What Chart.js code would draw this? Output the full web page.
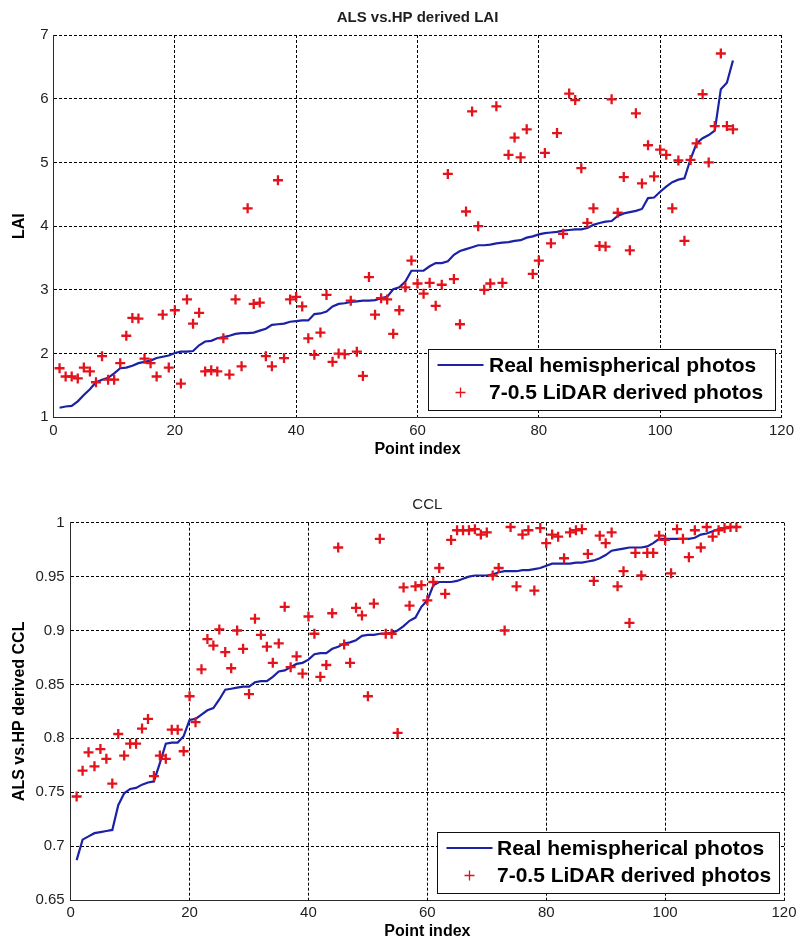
<!DOCTYPE html>
<html>
<head>
<meta charset="utf-8">
<title>ALS vs. HP derived LAI and CCL</title>
<script src="https://cdn.jsdelivr.net/npm/chart.js@4/dist/chart.umd.min.js"></script>
<style>
  html, body { margin: 0; padding: 0; background: #fff; }
  #wrap { position: relative; width: 801px; height: 941px; overflow: hidden; background: #fff; }
  #wrap canvas { position: absolute; left: 0; }
  #laiCanvas { top: 0; }
  #cclCanvas { top: 470px; }
</style>
</head>
<body>
<div id="wrap">
  <canvas id="laiCanvas" width="801" height="470"></canvas>
  <canvas id="cclCanvas" width="801" height="471"></canvas>
</div>
<script>
// ---- axis ticks ----
const indexTicks = [0, 20, 40, 60, 80, 100, 120];
const laiTicks = [1, 2, 3, 4, 5, 6, 7];
const cclTicks = [0.65, 0.7, 0.75, 0.8, 0.85, 0.9, 0.95, 1];
const cclTickLabels = ['0.65', '0.7', '0.75', '0.8', '0.85', '0.9', '0.95', '1'];

// ---- series names ----
const seriesNames = ['Real hemispherical photos', '7-0.5 LiDAR derived photos'];

// ---- LAI: sorted hemispherical-photo values (point index 1..112) ----
const laiHP = [
  1.15, 1.17, 1.18, 1.25, 1.35, 1.44, 1.55, 1.59, 1.62, 1.69,
  1.77, 1.78, 1.81, 1.85, 1.87, 1.89, 1.93, 1.95, 1.97, 2.01,
  2.03, 2.03, 2.04, 2.13, 2.19, 2.20, 2.24, 2.26, 2.28, 2.31,
  2.32, 2.32, 2.33, 2.36, 2.39, 2.45, 2.46, 2.47, 2.50, 2.51,
  2.52, 2.52, 2.62, 2.63, 2.66, 2.74, 2.78, 2.79, 2.81, 2.82,
  2.83, 2.83, 2.84, 2.87, 2.89, 3.01, 3.04, 3.13, 3.30, 3.30,
  3.30, 3.37, 3.42, 3.42, 3.45, 3.55, 3.61, 3.64, 3.67, 3.70,
  3.70, 3.71, 3.73, 3.74, 3.75, 3.77, 3.78, 3.82, 3.84, 3.87,
  3.89, 3.90, 3.91, 3.93, 3.94, 3.95, 3.95, 3.97, 4.02, 4.05,
  4.07, 4.08, 4.16, 4.20, 4.22, 4.24, 4.27, 4.44, 4.45, 4.54,
  4.62, 4.69, 4.73, 4.75, 5.05, 5.30, 5.38, 5.43, 5.50, 6.15,
  6.25, 6.60
];

// ---- LAI: LiDAR-derived values at the same points ----
const laiLidar = [
  1.77, 1.64, 1.64, 1.61, 1.78, 1.72, 1.55, 1.96, 1.59, 1.59,
  1.85, 2.28, 2.56, 2.55, 1.92, 1.85, 1.64, 2.61, 1.78, 2.68,
  1.53, 2.85, 2.47, 2.64, 1.72, 1.74, 1.72, 2.24, 1.67, 2.85,
  1.80, 4.28, 2.78, 2.80, 1.96, 1.80, 4.72, 1.93, 2.85, 2.89,
  2.74, 2.24, 1.98, 2.33, 2.92, 1.87, 2.00, 1.99, 2.83, 2.03,
  1.65, 3.20, 2.61, 2.87, 2.85, 2.31, 2.68, 3.04, 3.46, 3.10,
  2.94, 3.11, 2.75, 3.08, 4.82, 3.17, 2.46, 4.23, 5.80, 4.00,
  3.00, 3.10, 5.88, 3.11, 5.12, 5.39, 5.08, 5.52, 3.25, 3.46,
  5.15, 3.73, 5.46, 3.88, 6.08, 5.98, 4.91, 4.05, 4.28, 3.69,
  3.68, 5.99, 4.21, 4.77, 3.62, 5.77, 4.67, 5.27, 4.78, 5.20,
  5.12, 4.28, 5.03, 3.77, 5.04, 5.30, 6.07, 5.00, 5.57, 6.71,
  5.57, 5.52
];

// ---- CCL: sorted hemispherical-photo values ----
const cclHP = [
  0.687, 0.706, 0.709, 0.712, 0.713, 0.714, 0.715, 0.738, 0.749, 0.753,
  0.754, 0.757, 0.759, 0.760, 0.777, 0.795, 0.796, 0.796, 0.802, 0.817,
  0.818, 0.822, 0.826, 0.828, 0.836, 0.845, 0.846, 0.847, 0.848, 0.848,
  0.852, 0.853, 0.853, 0.857, 0.862, 0.863, 0.866, 0.869, 0.870, 0.873,
  0.878, 0.879, 0.879, 0.883, 0.885, 0.888, 0.889, 0.891, 0.895, 0.896,
  0.896, 0.897, 0.897, 0.898, 0.900, 0.904, 0.909, 0.912, 0.922, 0.928,
  0.942, 0.945, 0.945, 0.945, 0.946, 0.948, 0.950, 0.951, 0.951, 0.951,
  0.952, 0.954, 0.955, 0.955, 0.955, 0.956, 0.956, 0.957, 0.958, 0.960,
  0.962, 0.962, 0.962, 0.962, 0.963, 0.963, 0.964, 0.965, 0.967, 0.970,
  0.974, 0.975, 0.976, 0.977, 0.977, 0.977, 0.978, 0.981, 0.985, 0.985,
  0.985, 0.985, 0.985, 0.985, 0.986, 0.989, 0.990, 0.992, 0.994, 0.995,
  0.996, 0.996
];

// ---- CCL: LiDAR-derived values ----
const cclLidar = [
  0.746, 0.770, 0.787, 0.774, 0.790, 0.781, 0.758, 0.804, 0.784, 0.795,
  0.795, 0.809, 0.818, 0.765, 0.784, 0.781, 0.808, 0.808, 0.788, 0.839,
  0.815, 0.864, 0.892, 0.886, 0.901, 0.880, 0.865, 0.900, 0.883, 0.841,
  0.911, 0.896, 0.885, 0.870, 0.888, 0.922, 0.866, 0.876, 0.860, 0.913,
  0.897, 0.857, 0.868, 0.916, 0.977, 0.887, 0.870, 0.921, 0.914, 0.839,
  0.925, 0.985, 0.897, 0.897, 0.805, 0.940, 0.923, 0.941, 0.942, 0.928,
  0.945, 0.958, 0.934, 0.984, 0.993, 0.993, 0.993, 0.994, 0.989, 0.991,
  0.951, 0.958, 0.900, 0.996, 0.941, 0.989, 0.993, 0.937, 0.995, 0.981,
  0.989, 0.987, 0.967, 0.991, 0.993, 0.994, 0.971, 0.946, 0.988, 0.981,
  0.991, 0.941, 0.955, 0.907, 0.972, 0.951, 0.972, 0.972, 0.988, 0.984,
  0.953, 0.994, 0.985, 0.968, 0.993, 0.977, 0.996, 0.987, 0.993, 0.995,
  0.996, 0.996
];

const FONT = '"Liberation Sans", Arial, Helvetica, sans-serif';
const INK = '#1e1e1e';
const BLUE = '#1b22a6';
const RED = '#e3121b';

// point index runs 1..n along the x axis
function toPoints(values) {
  return values.map((v, i) => ({ x: i + 1, y: v }));
}

// Framed legend in the lower-right corner of the plot area
const boxLegend = {
  id: 'boxLegend',
  afterDatasetsDraw(chart, _args, opts) {
    const { ctx, chartArea } = chart;
    const sets = chart.data.datasets;
    ctx.save();
    ctx.font = 'bold ' + opts.fontSize + 'px ' + FONT;
    const w = opts.width;
    const h = opts.height;
    const right = Math.round(chartArea.right - opts.insetRight);
    const bottom = Math.round(chartArea.bottom - opts.insetBottom);
    const left = right - w;
    const top = bottom - h;
    ctx.fillStyle = '#fff';
    ctx.fillRect(left, top, w, h);
    ctx.strokeStyle = '#111';
    ctx.lineWidth = 1;
    ctx.strokeRect(left + 0.5, top + 0.5, w, h);
    sets.forEach((d, i) => {
      const cy = top + opts.rows[i];
      if (d.showLine) {
        ctx.strokeStyle = d.borderColor;
        ctx.lineWidth = d.borderWidth;
        ctx.beginPath();
        ctx.moveTo(left + opts.sampleFrom, cy);
        ctx.lineTo(left + opts.sampleTo, cy);
        ctx.stroke();
      } else {
        const mx = left + (opts.sampleFrom + opts.sampleTo) / 2;
        const r = 5;
        ctx.strokeStyle = d.borderColor;
        ctx.lineWidth = 1.3;
        ctx.beginPath();
        ctx.moveTo(mx - r, cy); ctx.lineTo(mx + r, cy);
        ctx.moveTo(mx, cy - r); ctx.lineTo(mx, cy + r);
        ctx.stroke();
      }
      ctx.fillStyle = '#000';
      ctx.textBaseline = 'middle';
      ctx.textAlign = 'left';
      ctx.fillText(d.label, left + opts.textInset, cy + 1);
    });
    ctx.restore();
  }
};

function buildChart(canvasId, cfg) {
  return new Chart(document.getElementById(canvasId), {
    type: 'scatter',
    data: {
      datasets: [
        {
          label: seriesNames[0],
          data: toPoints(cfg.hp),
          showLine: true,
          borderColor: BLUE,
          backgroundColor: BLUE,
          borderWidth: 2.2,
          pointRadius: 0,
          tension: 0,
          order: 2
        },
        {
          label: seriesNames[1],
          data: toPoints(cfg.lidar),
          showLine: false,
          pointStyle: 'cross',
          pointRadius: 5,
          borderColor: RED,
          backgroundColor: RED,
          borderWidth: 2.3,
          order: 1
        }
      ]
    },
    options: {
      responsive: false,
      animation: false,
      devicePixelRatio: 1,
      events: [],
      layout: { padding: { left: 0, top: 0, bottom: 0, right: cfg.padRight } },
      plugins: {
        legend: { display: false },
        tooltip: { enabled: false },
        title: {
          display: true,
          fullSize: false,
          text: cfg.title,
          color: INK,
          font: { family: FONT, size: 15, weight: cfg.titleWeight },
          padding: cfg.titlePad
        },
        boxLegend: {
          fontSize: 21,
          width: cfg.legendWidth,
          textInset: cfg.legendTextInset,
          height: 61,
          rows: [16, 43.5],
          sampleFrom: 9.5,
          sampleTo: 55.5,
          insetRight: cfg.legendInsetRight,
          insetBottom: 7
        }
      },
      scales: {
        x: {
          type: 'linear',
          min: 0,
          max: 120,
          afterBuildTicks: s => { s.ticks = indexTicks.map(v => ({ value: v })); },
          afterFit: s => { s.height = cfg.xHeight; },
          ticks: {
            color: INK,
            font: { family: FONT, size: 15 },
            padding: cfg.xTickPad,
            maxRotation: 0,
            autoSkip: false
          },
          grid: { color: '#000', lineWidth: 1, drawTicks: false },
          border: { display: true, color: '#2a2a2a', width: 1, dash: [3, 2] },
          title: {
            display: true,
            text: 'Point index',
            color: '#000',
            font: { family: FONT, size: 16, weight: 'bold' },
            padding: { top: 0, bottom: cfg.xTitlePadBottom }
          }
        },
        y: {
          type: 'linear',
          min: cfg.yTicks[0],
          max: cfg.yTicks[cfg.yTicks.length - 1],
          afterBuildTicks: s => { s.ticks = cfg.yTicks.map(v => ({ value: v })); },
          afterFit: s => { s.width = cfg.yWidth; },
          ticks: {
            color: INK,
            font: { family: FONT, size: 15 },
            padding: cfg.yTickPad,
            autoSkip: false,
            callback: (v, i) => cfg.yLabels[i]
          },
          grid: { color: '#000', lineWidth: 1, drawTicks: false },
          border: { display: true, color: '#2a2a2a', width: 1, dash: [3, 2] },
          title: {
            display: true,
            text: cfg.yTitle,
            color: '#000',
            font: { family: FONT, size: 16, weight: 'bold' },
            padding: { top: 10.4, bottom: 0 }
          }
        }
      }
    },
    plugins: [boxLegend]
  });
}

buildChart('laiCanvas', {
  title: 'ALS vs.HP derived LAI',
  titleWeight: 'bold',
  titlePad: { top: 9, bottom: 8 },
  hp: laiHP,
  lidar: laiLidar,
  yTicks: laiTicks,
  yLabels: laiTicks.map(String),
  yTitle: 'LAI',
  yWidth: 53.5,
  yTickPad: 5,
  xHeight: 52.7,
  xTickPad: 5,
  xTitlePadBottom: 10.4,
  padRight: 19.5,
  legendWidth: 347,
  legendTextInset: 61,
  legendInsetRight: 7
});

buildChart('cclCanvas', {
  title: 'CCL',
  titleWeight: 'normal',
  titlePad: { top: 26, bottom: 8.7 },
  hp: cclHP,
  lidar: cclLidar,
  yTicks: cclTicks,
  yLabels: cclTickLabels,
  yTitle: 'ALS vs.HP derived CCL',
  yWidth: 70.7,
  yTickPad: 6,
  xHeight: 41,
  xTickPad: 4,
  xTitlePadBottom: 0,
  padRight: 17,
  legendWidth: 342,
  legendTextInset: 60,
  legendInsetRight: 5
});
</script>
</body>
</html>
